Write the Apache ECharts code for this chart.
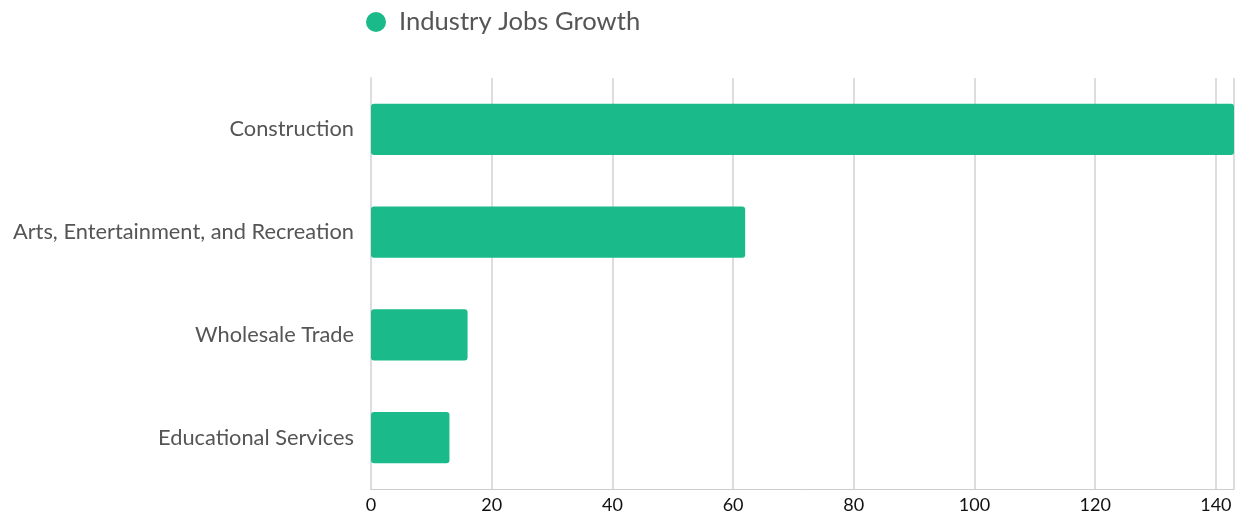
<!DOCTYPE html>
<html><head><meta charset="utf-8">
<script src="https://cdn.jsdelivr.net/npm/echarts@6/dist/echarts.min.js"></script>
<style>html,body{margin:0;padding:0;background:#fff}#c{width:1251px;height:516px}</style>
</head><body><div id="c"></div>
<script>
const categories = ["Construction", "Arts, Entertainment, and Recreation", "Wholesale Trade", "Educational Services"];
const values = [143, 62, 16, 13];
const seriesName = "Industry Jobs Growth";

const chart = echarts.init(document.getElementById('c'));
chart.setOption({
  animation: false,
  textStyle: { fontFamily: 'Lato' },
  legend: {
    left: 361, top: 4,
    icon: 'circle', itemWidth: 20, itemHeight: 20, itemGap: 10,
    textStyle: { fontSize: 25.6, color: '#555', fontFamily: 'Lato', padding: [0, 0, 0, 8] },
    data: [seriesName]
  },
  grid: { left: 371, right: 17, top: 78, bottom: 27, containLabel: false },
  xAxis: {
    type: 'value', min: 0, max: 'dataMax', interval: 20,
    axisLine: { show: true, lineStyle: { color: '#ccc', width: 1 } },
    axisTick: { show: false },
    splitLine: { show: true, lineStyle: { color: '#ddd', width: 2 } },
    axisLabel: { fontSize: 18, color: '#111', fontFamily: 'Lato', margin: 7, showMaxLabel: false }
  },
  yAxis: {
    type: 'category', data: categories, inverse: true,
    axisLine: { show: true, lineStyle: { color: '#ddd', width: 2 } },
    axisTick: { show: false },
    axisLabel: { fontSize: 21.8, color: '#555', fontFamily: 'Lato', margin: 17 }
  },
  series: [{
    name: seriesName, type: 'bar', data: values, barWidth: '50%',
    itemStyle: { color: '#1aba8a', borderRadius: 3 }
  }]
});
</script></body></html>
